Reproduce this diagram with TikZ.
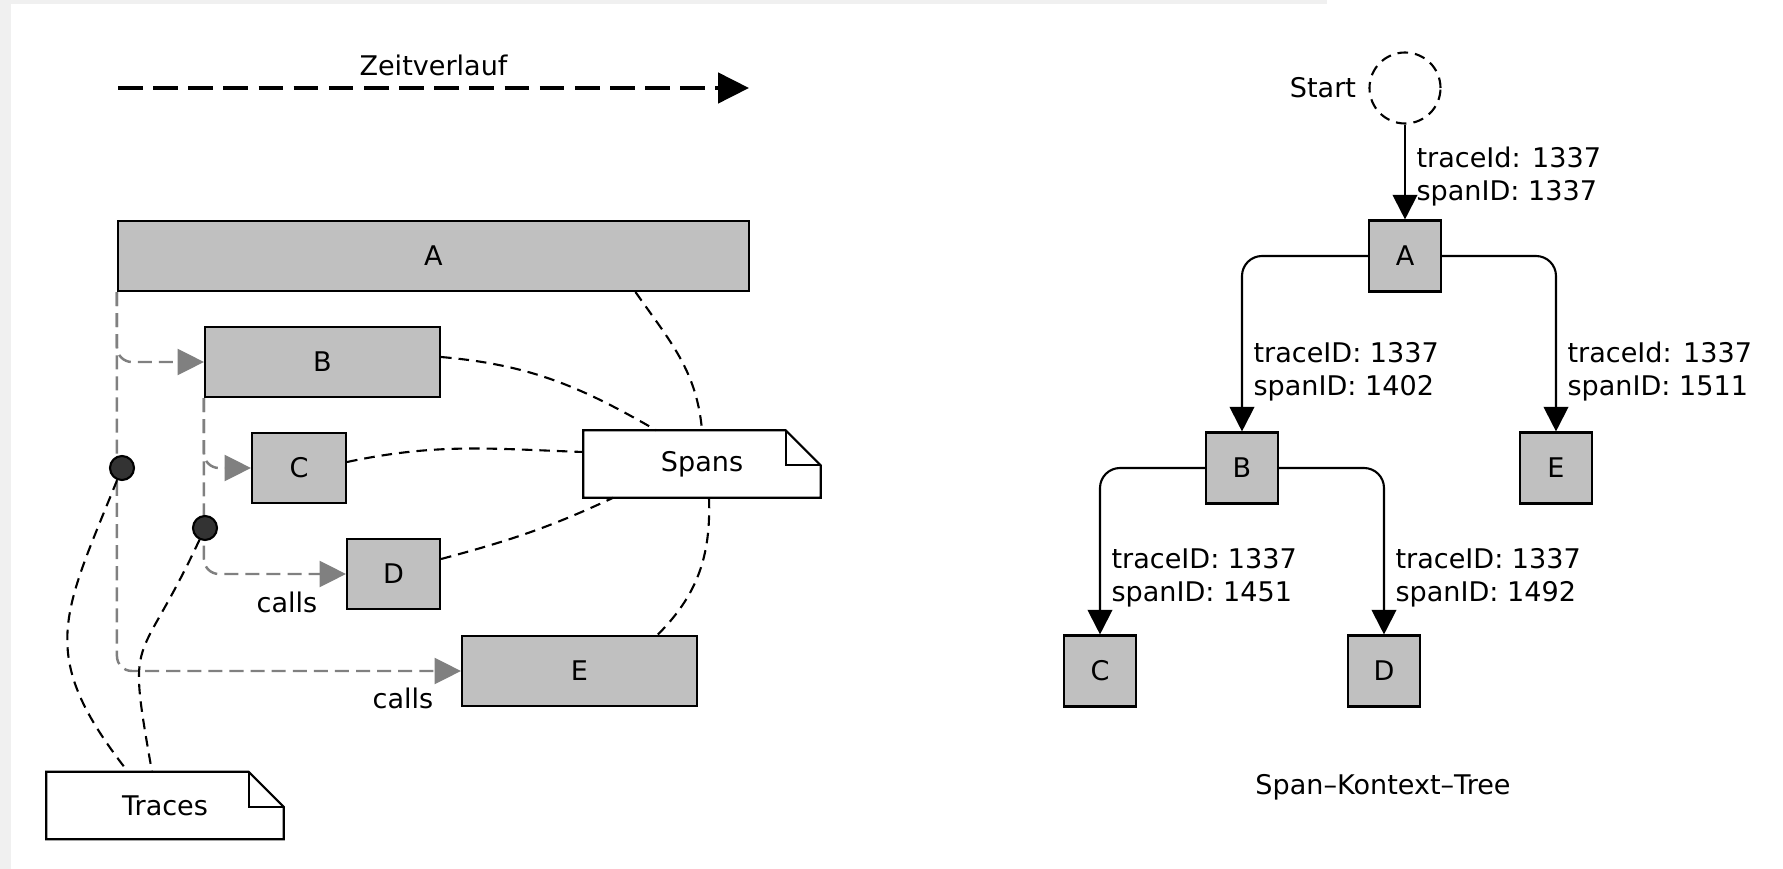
\documentclass[tikz,border=0pt]{standalone}
\usepackage{fontspec}
\setmainfont{DejaVu Sans}
\usetikzlibrary{arrows.meta,positioning,calc}
\definecolor{boxgray}{HTML}{C0C0C0}
\definecolor{callgray}{HTML}{808080}
\definecolor{dotgray}{HTML}{333333}
\definecolor{stripgray}{HTML}{F0F0F0}
\tikzset{
  span/.style={rectangle, draw=black, line width=0.6pt, fill=boxgray,
    inner sep=0pt, minimum height=0.70cm},
  tnode/.style={span, minimum width=0.72cm, minimum height=0.71cm},
  note/.style={rectangle, inner sep=0pt, fill=white,
    minimum width=2.36cm, minimum height=0.66cm},
  dot/.style={circle, draw=black, line width=0.6pt, fill=dotgray,
    inner sep=0pt, minimum size=0.24cm},
  lbl/.style={align=left, inner sep=3pt},
  call/.style={-{Triangle[length=7.5pt, width=7.4pt]}, draw=callgray,
    line width=0.7pt, dash pattern=on 4pt off 2pt, rounded corners=0.15cm},
  link/.style={line width=0.6pt, dash pattern=on 3pt off 2pt},
  tree/.style={-{Triangle[length=7pt, width=7pt]}, line width=0.6pt,
    rounded corners=0.2cm},
  timeline/.style={-{Triangle[length=8.8pt, width=8.6pt]}, line width=1.1pt,
    dash pattern=on 7pt off 3pt},
}

\begin{document}
\begin{tikzpicture}[
  every node/.style={font=\fontsize{7.7}{9.4}\selectfont},
]
% Page background
\fill[white] (0,0) rectangle (17.83,-8.69);
\fill[stripgray] (0,0) rectangle (0.11,-8.69);
\fill[stripgray] (0,0) rectangle (13.27,-0.045);
\useasboundingbox (0,0) rectangle (17.83,-8.69);
% Time axis
\coordinate (t0) at (1.18,-0.88);
\coordinate (t1) at (7.49,-0.88);
\draw[timeline] (t0) -- (t1) node[midway, above=-0.5pt] (zeit) {Zeitverlauf};
% Span bars
\node[span, minimum width=6.31cm] (sA) at (4.335,-2.56) {A};
\node[span, minimum width=2.35cm] (sB) at (3.225,-3.62) {B};
\node[span, minimum width=0.94cm] (sC) at (2.99,-4.68) {C};
\node[span, minimum width=0.93cm] (sD) at (3.935,-5.74) {D};
\node[span, minimum width=2.35cm] (sE) at (5.795,-6.71) {E};
% Notes
\node[note] (spans)  at (7.02,-4.64) {Spans};
\node[note] (traces) at (1.65,-8.055) {Traces};
\foreach \n in {spans,traces} {
  \draw[line width=0.6pt] (\n.south west) -- (\n.north west)
    -- ([xshift=-0.35cm]\n.north east) -- ([yshift=-0.35cm]\n.north east)
    -- (\n.south east) -- cycle;
  \draw[line width=0.6pt] ([xshift=-0.35cm]\n.north east) |- ([yshift=-0.35cm]\n.north east);
}
% Calls
\draw[call] (sA.south west) |- (sB.west);
\draw[call] (sA.south west) |- (sE.west);
\draw[call] (sB.south west) |- (sC.west);
\draw[call] (sB.south west) |- (sD.west);
\node (callD) at (2.87,-6.02) {calls};
\node (callE) at (4.03,-6.98) {calls};
% Trace markers
\node[dot] (d1) at (1.22,-4.68) {};
\node[dot] (d2) at (2.05,-5.28) {};
% Links to the notes
\draw[link] ([xshift=2.02cm]sA.south) to[out=-55, in=95] (spans.north);
\draw[link] ([yshift=0.05cm]sB.east) to[out=-5, in=150] ([xshift=0.73cm]spans.north west);
\draw[link] ([yshift=0.06cm]sC.east) to[out=12, in=178] ([yshift=0.12cm]spans.west);
\draw[link] ([yshift=0.15cm]sD.east) to[out=15, in=-155] ([xshift=0.30cm]spans.south west);
\draw[link] ([xshift=0.07cm]spans.south) to[out=-88, in=45] ([xshift=0.78cm]sE.north);
\draw[link] (d1) to[out=-112, in=128, looseness=1.3] ([xshift=-0.37cm]traces.north);
\draw[link] (d2) to[out=-115, in=100, looseness=1.6] ([xshift=-0.13cm]traces.north);
% Span context tree
\node[circle, draw, line width=0.6pt, dash pattern=on 3pt off 2pt,
      minimum size=0.71cm, inner sep=0pt] (st) at (14.05,-0.88) {};
\node[left=0cm of st] (stl) {Start};
\node[tnode] (ta) at (14.05,-2.56) {A};
\node[tnode] (tb) at (12.42,-4.68) {B};
\node[tnode] (te) at (15.56,-4.68) {E};
\node[tnode] (tc) at (11.00,-6.71) {C};
\node[tnode] (td) at (13.84,-6.71) {D};
\draw[tree] (st) -- node[lbl, right, pos=0.55] (l0) {traceId: 1337\\spanID: 1337} (ta);
\draw[tree] (ta.west) -| node[lbl, right, pos=0.83] (l1) {traceID: 1337\\spanID: 1402} (tb.north);
\draw[tree] (ta.east) -| node[lbl, right, pos=0.83] (l2) {traceId: 1337\\spanID: 1511} (te.north);
\draw[tree] (tb.west) -| node[lbl, right, pos=0.83] (l3) {traceID: 1337\\spanID: 1451} (tc.north);
\draw[tree] (tb.east) -| node[lbl, right, pos=0.83] (l4) {traceID: 1337\\spanID: 1492} (td.north);
\node (ttl) at (13.83,-7.87) {Span–Kontext–Tree};
\end{tikzpicture}
\end{document}
